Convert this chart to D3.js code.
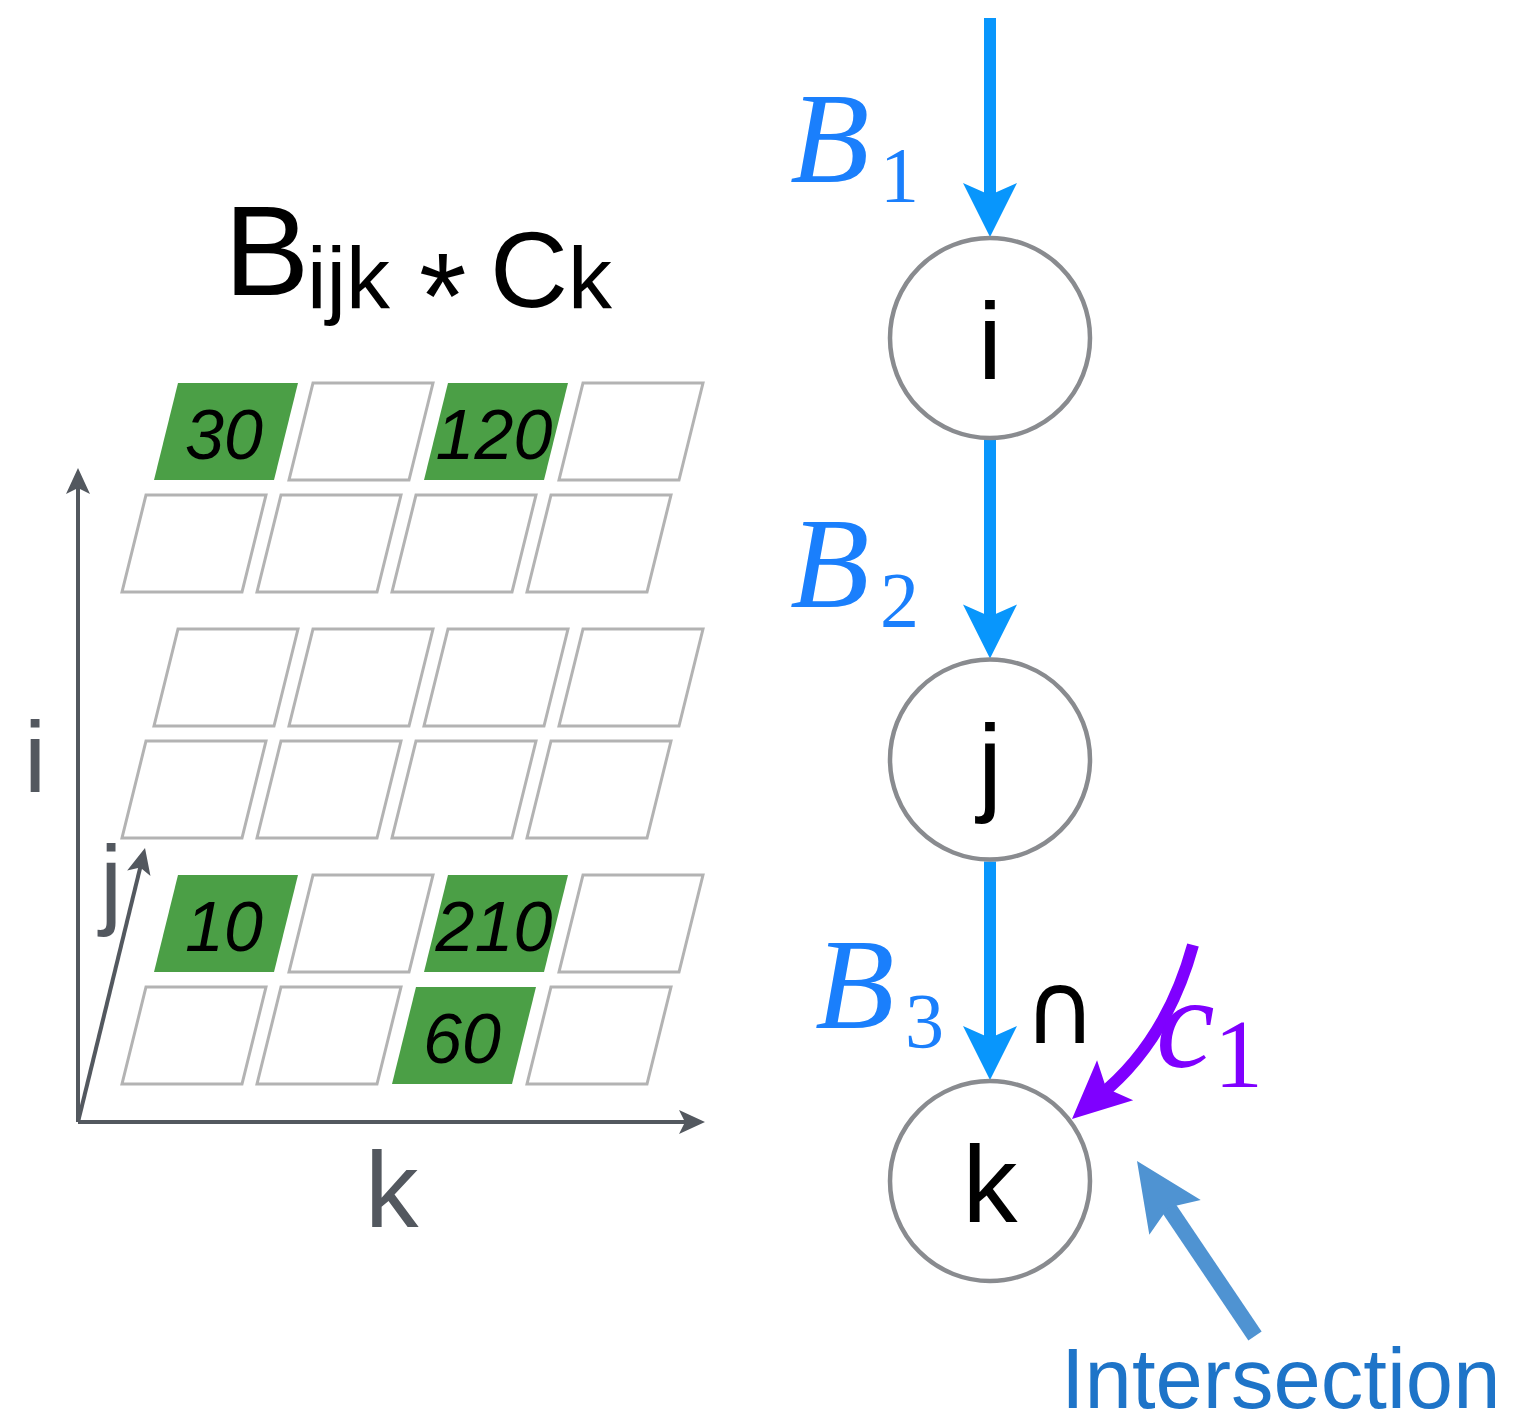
<!DOCTYPE html>
<html>
<head>
<meta charset="utf-8">
<script src="https://cdn.jsdelivr.net/npm/d3@7"></script>
<style>
  body { margin: 0; background: #fff; }
  svg { display: block; }
</style>
</head>
<body>
<div id="chart"></div>
<script>
// tensor B_ijk : 3 slices (i) x 2 rows (j) x 4 columns (k)
var iLevels = [0, 1, 2];
var jLevels = [0, 1];
var kLevels = [0, 1, 2, 3];

// non zero entries
var nzI = [2, 2, 0, 0, 0];
var nzJ = [1, 1, 1, 1, 0];
var nzK = [0, 2, 0, 2, 2];
var nzVal = [30, 120, 10, 210, 60];

// iteration graph
var nodeNames = ["i", "j", "k"];
var edgeSymbols = ["B", "B", "B"];
var edgeSubs = ["1", "2", "3"];

var width = 1517, height = 1427;

var green = "#4b9f46";
var cellStroke = "#b3b3b3";
var axisColor = "#53585f";
var blue = "#0896fc";
var labelBlue = "#1a7ffc";
var purple = "#7f00ff";
var interBlue = "#4f93d2";

var svg = d3.select("#chart")
  .append("svg")
  .attr("width", width)
  .attr("height", height);

// ---- tensor cells ----
var cellW = 120, cellH = 97, skew = 24;

var xK = d3.scaleLinear().domain([0, 3]).range([122, 527]);
var yI = d3.scaleLinear().domain([0, 2]).range([1084, 592]);
var jX = d3.scaleLinear().domain([0, 1]).range([0, 32]);
var jY = d3.scaleLinear().domain([0, 1]).range([0, -112]);

var cells = [];
iLevels.forEach(function(i) {
  jLevels.forEach(function(j) {
    kLevels.forEach(function(k) {
      var v = null;
      for (var n = 0; n < nzVal.length; n++) {
        if (nzI[n] == i && nzJ[n] == j && nzK[n] == k) v = nzVal[n];
      }
      cells.push({ i: i, j: j, k: k, v: v });
    });
  });
});

function cellPath(d) {
  var x = xK(d.k) + jX(d.j), y = yI(d.i) + jY(d.j);
  return "M" + x + "," + y +
    "L" + (x + cellW) + "," + y +
    "L" + (x + cellW + skew) + "," + (y - cellH) +
    "L" + (x + skew) + "," + (y - cellH) + "Z";
}

var grid = svg.append("g").attr("class", "grid");

grid.selectAll("path.cell")
  .data(cells)
  .enter().append("path")
  .attr("class", "cell")
  .attr("d", cellPath)
  .attr("fill", function(d) { return d.v == null ? "#fff" : green; })
  .attr("stroke", function(d) { return d.v == null ? cellStroke : "none"; })
  .attr("stroke-width", 3);

grid.selectAll("text.val")
  .data(cells.filter(function(d) { return d.v != null; }))
  .enter().append("text")
  .attr("class", "val")
  .attr("x", function(d) { return xK(d.k) + jX(d.j) + (cellW + skew) / 2 - 2; })
  .attr("y", function(d) { return yI(d.i) + jY(d.j) - 21; })
  .attr("text-anchor", "middle")
  .style("font-family", "'Liberation Sans', Arial, sans-serif")
  .style("font-style", "italic")
  .style("font-size", "70px")
  .attr("fill", "#000")
  .text(function(d) { return d.v; });

// ---- axes ----
var origin = [78, 1122];
var axes = [
  { to: [78, 468], label: "i", lx: 24, ly: 792, size: 100 },
  { to: [145, 848], label: "j", lx: 100, ly: 916, size: 100 },
  { to: [705, 1122], label: "k", lx: 365, ly: 1227, size: 107 }
];

function arrowHead(tip, from, len, half, notch) {
  var dx = tip[0] - from[0], dy = tip[1] - from[1];
  var L = Math.sqrt(dx * dx + dy * dy);
  var ux = dx / L, uy = dy / L, px = -uy, py = ux;
  var bx = tip[0] - ux * len, by = tip[1] - uy * len;
  var nx = tip[0] - ux * (len - notch), ny = tip[1] - uy * (len - notch);
  return "M" + tip[0] + "," + tip[1] +
    "L" + (bx + px * half) + "," + (by + py * half) +
    "L" + nx + "," + ny +
    "L" + (bx - px * half) + "," + (by - py * half) + "Z";
}

var axisG = svg.append("g").attr("class", "axes");
axes.forEach(function(a) {
  var dx = a.to[0] - origin[0], dy = a.to[1] - origin[1];
  var L = Math.sqrt(dx * dx + dy * dy);
  axisG.append("line")
    .attr("x1", origin[0]).attr("y1", origin[1])
    .attr("x2", a.to[0] - dx / L * 18).attr("y2", a.to[1] - dy / L * 18)
    .attr("stroke", axisColor)
    .attr("stroke-width", 4);
  axisG.append("path")
    .attr("d", arrowHead(a.to, origin, 26, 12, 6))
    .attr("fill", axisColor);
  axisG.append("text")
    .attr("x", a.lx).attr("y", a.ly)
    .style("font-family", "'Liberation Sans', Arial, sans-serif")
    .style("font-size", a.size + "px")
    .attr("fill", axisColor)
    .text(a.label);
});

// ---- title ----
var title = svg.append("g").attr("class", "title")
  .style("font-family", "'Liberation Sans', Arial, sans-serif")
  .attr("fill", "#000");
title.append("text").attr("x", 224).attr("y", 295).style("font-size", "128px").text("B");
title.append("text").attr("x", 307).attr("y", 308).style("font-size", "88px").text("ijk");
title.append("text").attr("x", 419).attr("y", 338).style("font-size", "122px").text("*");
title.append("text").attr("x", 490).attr("y", 307).style("font-size", "108px").text("C");
title.append("text").attr("x", 568).attr("y", 308).style("font-size", "88px").text("k");

// ---- iteration graph ----
var cx = 990, r = 100;
var yNode = d3.scaleLinear().domain([0, 2]).range([338, 1181]);

var graph = svg.append("g").attr("class", "graph");

// edges
nodeNames.forEach(function(n, idx) {
  var tipY = yNode(idx) - r - 1;
  var startY = idx == 0 ? 18 : yNode(idx - 1) + r + 2;
  graph.append("line")
    .attr("x1", cx).attr("y1", startY)
    .attr("x2", cx).attr("y2", tipY - 40)
    .attr("stroke", blue)
    .attr("stroke-width", 12);
  graph.append("path")
    .attr("d", arrowHead([cx, tipY], [cx, startY], 54, 27, 12))
    .attr("fill", blue);

  var shift = idx == 2 ? 25 : 0;
  var baseY = tipY - 55 + (idx == 0 ? 0 : 3);
  var lab = graph.append("text")
    .attr("y", baseY)
    .style("font-family", "'Liberation Serif', 'Times New Roman', serif")
    .attr("fill", labelBlue);
  lab.append("tspan")
    .attr("x", 790 + shift)
    .style("font-style", "italic")
    .style("font-size", "130px")
    .text(edgeSymbols[idx]);
  lab.append("tspan")
    .attr("x", 880 + shift)
    .attr("y", baseY + 19)
    .style("font-size", "78px")
    .text(edgeSubs[idx]);
});

// nodes
graph.selectAll("circle.node")
  .data(nodeNames)
  .enter().append("circle")
  .attr("class", "node")
  .attr("cx", cx)
  .attr("cy", function(d, idx) { return yNode(idx); })
  .attr("r", r)
  .attr("fill", "#fff")
  .attr("stroke", "#898b8f")
  .attr("stroke-width", 4.5);

graph.selectAll("text.node")
  .data(nodeNames)
  .enter().append("text")
  .attr("class", "node")
  .attr("x", cx)
  .attr("y", function(d, idx) { return yNode(idx) + 41; })
  .attr("text-anchor", "middle")
  .style("font-family", "'Liberation Sans', Arial, sans-serif")
  .style("font-size", "110px")
  .attr("fill", "#000")
  .text(function(d) { return d; });

// intersection symbol and c1 arrow at node k
var kY = yNode(2);
graph.append("text")
  .attr("x", cx + 70)
  .attr("y", kY - 138)
  .attr("text-anchor", "middle")
  .style("font-family", "'DejaVu Sans', sans-serif")
  .style("font-size", "100px")
  .attr("fill", "#000")
  .text("\u2229");

graph.append("path")
  .attr("d", "M" + (cx + 203) + "," + (kY - 236) +
    "Q" + (cx + 176) + "," + (kY - 138) + " " + (cx + 108) + "," + (kY - 84))
  .attr("fill", "none")
  .attr("stroke", purple)
  .attr("stroke-width", 12);
graph.append("path")
  .attr("d", arrowHead([cx + 82, kY - 62], [cx + 122, kY - 98], 58, 27, 12))
  .attr("fill", purple);

var c1 = graph.append("text")
  .attr("y", kY - 114)
  .style("font-family", "'Liberation Serif', 'Times New Roman', serif")
  .attr("fill", purple);
c1.append("tspan").attr("x", cx + 166).style("font-style", "italic").style("font-size", "132px").text("c");
c1.append("tspan").attr("x", cx + 224).attr("y", kY - 94).style("font-size", "98px").text("1");

// intersection annotation
var tip = [cx + 147, kY - 20];
var tail = [cx + 265, kY + 155];
graph.append("line")
  .attr("x1", tail[0]).attr("y1", tail[1])
  .attr("x2", tip[0] + (tail[0] - tip[0]) * 0.2).attr("y2", tip[1] + (tail[1] - tip[1]) * 0.2)
  .attr("stroke", interBlue)
  .attr("stroke-width", 16);
graph.append("path")
  .attr("d", arrowHead(tip, tail, 68, 31, 12))
  .attr("fill", interBlue);

graph.append("text")
  .attr("x", 1061)
  .attr("y", 1408)
  .style("font-family", "'Liberation Sans', Arial, sans-serif")
  .style("font-size", "85px")
  .attr("fill", "#1e74c8")
  .text("Intersection");
</script>
</body>
</html>
